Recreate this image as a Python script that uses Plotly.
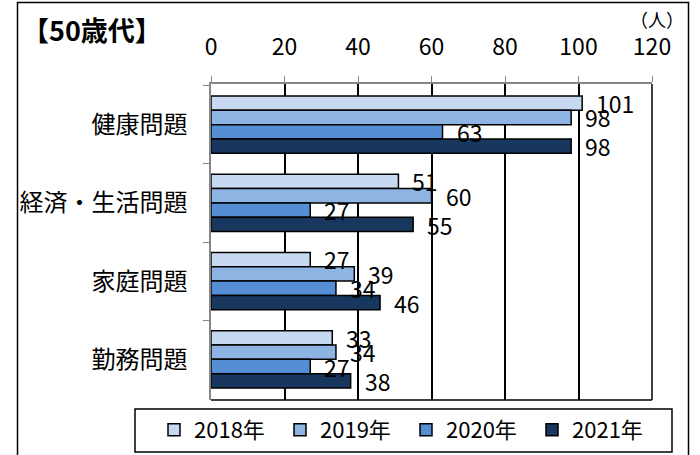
import plotly.graph_objects as go

categories = ["健康問題", "経済・生活問題", "家庭問題", "勤務問題"]
years = ["2018年", "2019年", "2020年", "2021年"]
values_2018 = [101, 51, 27, 33]
values_2019 = [98, 60, 39, 34]
values_2020 = [63, 27, 34, 27]
values_2021 = [98, 55, 46, 38]
series = [values_2018, values_2019, values_2020, values_2021]
colors = ["#C6D9F1", "#8DB4E2", "#558ED5", "#17375E"]
x_ticks = [0, 20, 40, 60, 80, 100, 120]

JP = "Noto Sans CJK JP"
NUM = "Noto Sans CJK JP"

L, R, T, B = 211, 652, 84, 400
W, H = 700, 455
BARGAP = 0.27
def px(x):
    return (x - L) / (R - L)
def py(y):
    return (B - y) / (B - T)

band = (B - T) / len(categories)
bar_h = band * (1 - BARGAP) / len(series)

legend_ids = ["legend", "legend2", "legend3", "legend4"]
LEG_X0, LEG_STEP, LEG_Y = 154, 126, 430

fig = go.Figure()
annotations = []
legend_layouts = {}
for i, (name, vals, col) in enumerate(zip(years, series, colors)):
    fig.add_trace(go.Bar(
        y=categories, x=vals, name=name, orientation="h",
        marker=dict(color=col, line=dict(color="#000000", width=1.5)),
        cliponaxis=False, legend=legend_ids[i],
    ))
    legend_layouts[legend_ids[i]] = dict(
        orientation="h", xref="container", yref="container",
        x=(LEG_X0 + LEG_STEP * i) / W, y=(H - LEG_Y) / H,
        xanchor="left", yanchor="middle",
        font=dict(size=22, family=NUM), borderwidth=0, bgcolor="rgba(0,0,0,0)",
        itemclick=False, itemdoubleclick=False,
    )
    for cat, v in zip(categories, vals):
        annotations.append(dict(
            x=v, y=cat, xref="x", yref="y", text=str(v), showarrow=False,
            xanchor="left", yanchor="middle", xshift=12,
            yshift=(len(series) / 2 - 0.5 - i) * bar_h,
            font=dict(size=23, family=NUM, color="#000000"),
        ))

annotations += [
    dict(text="<b>【50歳代】</b>", xref="paper", yref="paper", x=px(20), y=py(30),
         xanchor="left", yanchor="middle", showarrow=False,
         font=dict(size=27, family=JP)),
    dict(text="（人）", xref="paper", yref="paper", x=px(686), y=py(19),
         xanchor="right", yanchor="middle", showarrow=False,
         font=dict(size=18, family=JP)),
]

fig.update_layout(
    width=W, height=H,
    margin=dict(l=L, r=W - R, t=T, b=H - B, autoexpand=False),
    paper_bgcolor="white", plot_bgcolor="white",
    barmode="group", bargap=BARGAP, bargroupgap=0,
    font=dict(family=JP, color="#000000"),
    showlegend=True,
    xaxis=dict(
        side="top", range=[0, 120], tickvals=x_ticks, ticktext=[str(t) for t in x_ticks],
        showgrid=True, gridcolor="#000000", gridwidth=1.5,
        showline=True, linecolor="#868686", linewidth=1.5,
        ticks="outside", ticklen=6, tickcolor="#868686",
        tickfont=dict(size=23, family=NUM), ticklabelstandoff=12,
        zeroline=False, fixedrange=True, automargin=False,
    ),
    yaxis=dict(
        autorange="reversed", showline=True, linecolor="#868686", linewidth=1.5,
        ticks="outside", ticklen=6, tickcolor="#868686", tickson="boundaries",
        tickfont=dict(size=24, family=JP), ticklabelstandoff=17,
        showgrid=False, fixedrange=True, automargin=False,
    ),
    shapes=[
        dict(type="rect", xref="paper", yref="paper",
             x0=px(17.5), x1=px(688.5), y0=py(470), y1=py(2.5),
             line=dict(color="#000000", width=1.5), fillcolor="rgba(0,0,0,0)", layer="above"),
        dict(type="line", xref="paper", yref="paper",
             x0=0, x1=1, y0=0, y1=0, line=dict(color="#000000", width=1.5)),
        dict(type="line", xref="paper", yref="paper",
             x0=1, x1=1, y0=0, y1=1, line=dict(color="#000000", width=1.5)),
        dict(type="rect", xref="paper", yref="paper",
             x0=px(135), x1=px(672), y0=py(452), y1=py(409),
             line=dict(color="#000000", width=1.5), fillcolor="white", layer="above"),
    ],
    annotations=annotations,
    **legend_layouts,
)

fig.write_html("out.html", config={"displayModeBar": False},
               post_script="document.body.style.margin='0';")
